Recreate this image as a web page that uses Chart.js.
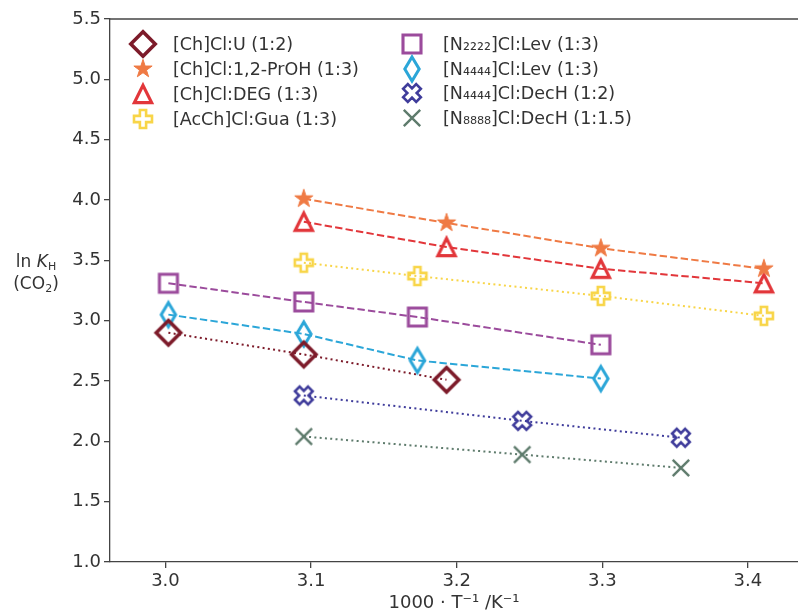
<!DOCTYPE html>
<html>
<head>
<meta charset="utf-8">
<script src="https://cdn.jsdelivr.net/npm/chart.js@4.4.1/dist/chart.umd.min.js"></script>
<style>
  html, body { margin:0; padding:0; background:#fff; }
  #wrap { position:relative; width:798px; height:613px; overflow:hidden; font-family:"DejaVu Sans", sans-serif; color:#333; }
  #c { position:absolute; left:0; top:0; }
  .lg { position:absolute; font-size:17.5px; line-height:20px; white-space:nowrap; color:#333; }
  .mk { position:absolute; width:40px; height:40px; }
  .yt { position:absolute; font-size:17px; line-height:20px; white-space:nowrap; color:#333; text-align:center; width:80px; }
  .yt sub { font-size:11px; vertical-align:-3px; line-height:0; }
</style>
</head>
<body>
<div id="wrap">
  <canvas id="c" width="798" height="613"></canvas>
  <div class="yt" style="left:-4px;top:251px;">ln <i>K</i><sub>H</sub></div>
  <div class="yt" style="left:-4px;top:273px;">(CO<sub>2</sub>)</div>
</div>
<script>
// ---- data ----
const seriesNames = [
  "[Ch]Cl:U (1:2)",
  "[Ch]Cl:1,2-PrOH (1:3)",
  "[Ch]Cl:DEG (1:3)",
  "[AcCh]Cl:Gua (1:3)",
  "[N\u2082\u2082\u2082\u2082]Cl:Lev (1:3)",
  "[N\u2084\u2084\u2084\u2084]Cl:Lev (1:3)",
  "[N\u2084\u2084\u2084\u2084]Cl:DecH (1:2)",
  "[N\u2088\u2088\u2088\u2088]Cl:DecH (1:1.5)"
];
const xU     = [3.002, 3.095, 3.193];
const yU     = [2.90, 2.72, 2.51];
const xPrOH  = [3.095, 3.193, 3.299, 3.411];
const yPrOH  = [4.01, 3.81, 3.60, 3.43];
const xDEG   = [3.095, 3.193, 3.299, 3.411];
const yDEG   = [3.82, 3.61, 3.43, 3.31];
const xGua   = [3.095, 3.173, 3.299, 3.411];
const yGua   = [3.48, 3.37, 3.205, 3.04];
const xN2Lev = [3.002, 3.095, 3.173, 3.299];
const yN2Lev = [3.31, 3.155, 3.03, 2.80];
const xN4Lev = [3.002, 3.095, 3.173, 3.299];
const yN4Lev = [3.05, 2.89, 2.67, 2.52];
const xN4Dec = [3.095, 3.245, 3.354];
const yN4Dec = [2.38, 2.17, 2.03];
const xN8Dec = [3.095, 3.245, 3.354];
const yN8Dec = [2.04, 1.89, 1.78];
const xTicks = [3.0, 3.1, 3.2, 3.3, 3.4];
const yTicks = [1.0, 1.5, 2.0, 2.5, 3.0, 3.5, 4.0, 4.5, 5.0, 5.5];

// ---- styles ----
const styles = [
  {m:'D',    c:'#7d1b2a', dash:[2,3.3]},
  {m:'star', c:'#ef7a44', dash:[7.4,3.2]},
  {m:'^',    c:'#e2363a', dash:[7.4,3.2]},
  {m:'P',    c:'#f8d548', dash:[2,3.3]},
  {m:'s',    c:'#9b4b9c', dash:[7.4,3.2]},
  {m:'d',    c:'#2ba6d8', dash:[7.4,3.2]},
  {m:'X',    c:'#3f3c9b', dash:[2,3.3]},
  {m:'x',    c:'#5e7b6c', dash:[2,3.3]}
];

function drawMarker(ctx, m, color, cx, cy) {
  ctx.save();
  ctx.strokeStyle = color; ctx.fillStyle = color;
  ctx.lineJoin = 'miter'; ctx.lineWidth = 3.2;
  ctx.beginPath();
  if (m === 'D') {
    const r = 12.2;
    ctx.moveTo(cx, cy - r); ctx.lineTo(cx + r, cy); ctx.lineTo(cx, cy + r); ctx.lineTo(cx - r, cy); ctx.closePath();
    ctx.lineWidth = 3.6; ctx.stroke();
  } else if (m === 'star') {
    const R = 9.6, ri = R * 0.382;
    for (let i = 0; i < 10; i++) {
      const rr = i % 2 ? ri : R;
      const a = -Math.PI / 2 + i * Math.PI / 5;
      const px = cx + rr * Math.cos(a), py = cy + rr * Math.sin(a);
      i ? ctx.lineTo(px, py) : ctx.moveTo(px, py);
    }
    ctx.closePath(); ctx.lineWidth = 1; ctx.fill(); ctx.stroke();
  } else if (m === '^') {
    const h = 8.6;
    ctx.moveTo(cx, cy - h); ctx.lineTo(cx + h, cy + h); ctx.lineTo(cx - h, cy + h); ctx.closePath();
    ctx.stroke();
  } else if (m === 'P' || m === 'X') {
    const a = m === 'P' ? 9 : 9.2, b = m === 'P' ? 3.1 : 3.3;
    const pts = [[-b,-a],[b,-a],[b,-b],[a,-b],[a,b],[b,b],[b,a],[-b,a],[-b,b],[-a,b],[-a,-b],[-b,-b]];
    const rot = m === 'X' ? Math.PI / 4 : 0;
    const cr = Math.cos(rot), sr = Math.sin(rot);
    pts.forEach((p, i) => {
      const px = cx + p[0] * cr - p[1] * sr, py = cy + p[0] * sr + p[1] * cr;
      i ? ctx.lineTo(px, py) : ctx.moveTo(px, py);
    });
    ctx.closePath(); ctx.lineWidth = 2.6; ctx.stroke();
  } else if (m === 's') {
    const h = 9;
    ctx.rect(cx - h, cy - h, 2 * h, 2 * h); ctx.lineWidth = 3.1; ctx.stroke();
  } else if (m === 'd') {
    const hy = 12, hx = 7.2;
    ctx.moveTo(cx, cy - hy); ctx.lineTo(cx + hx, cy); ctx.lineTo(cx, cy + hy); ctx.lineTo(cx - hx, cy); ctx.closePath();
    ctx.lineWidth = 3; ctx.stroke();
  } else if (m === 'x') {
    const h = 8.2;
    ctx.moveTo(cx - h, cy - h); ctx.lineTo(cx + h, cy + h);
    ctx.moveTo(cx + h, cy - h); ctx.lineTo(cx - h, cy + h);
    ctx.lineWidth = 2.4; ctx.stroke();
  }
  ctx.restore();
}
function markerCanvas(m, color) {
  const cv = document.createElement('canvas');
  cv.width = 40; cv.height = 40;
  drawMarker(cv.getContext('2d'), m, color, 20, 20);
  return cv;
}

const xs = [xU, xPrOH, xDEG, xGua, xN2Lev, xN4Lev, xN4Dec, xN8Dec];
const ys = [yU, yPrOH, yDEG, yGua, yN2Lev, yN4Lev, yN4Dec, yN8Dec];

const datasets = seriesNames.map((name, i) => ({
  label: name,
  data: xs[i].map((x, j) => ({x: x, y: ys[i][j]})),
  showLine: true,
  borderColor: styles[i].c,
  borderWidth: 2,
  borderDash: styles[i].dash,
  pointStyle: markerCanvas(styles[i].m, styles[i].c),
  pointRadius: 10,
  pointHoverRadius: 10,
  fill: false,
  tension: 0
}));

// top spine only (the right spine lies outside the picture in the reference)
const frame = {
  id: 'frame',
  afterDatasetsDraw(chart) {
    const {ctx, chartArea: a} = chart;
    ctx.save();
    ctx.strokeStyle = '#444'; ctx.lineWidth = 1.3;
    ctx.beginPath(); ctx.moveTo(a.left, a.top); ctx.lineTo(a.right, a.top); ctx.stroke();
    ctx.restore();
  }
};

const tickFont = {family: 'DejaVu Sans', size: 18};
new Chart(document.getElementById('c'), {
  type: 'scatter',
  data: {datasets},
  options: {
    responsive: false,
    animation: false,
    devicePixelRatio: 1,
    layout: {autoPadding: false, padding: {top: 19, right: 0, left: 0, bottom: 0}},
    plugins: {legend: {display: false}, tooltip: {enabled: false}},
    scales: {
      x: {
        type: 'linear', min: 2.9619, max: 3.4344,
        afterBuildTicks: s => { s.ticks = xTicks.map(v => ({value: v})); },
        afterFit: s => { s.height = 51; s.paddingLeft = 0; s.paddingRight = 0; },
        ticks: {font: tickFont, color: '#333', padding: 3, maxRotation: 0, callback: v => v.toFixed(1)},
        grid: {display: true, drawOnChartArea: false, drawTicks: true, tickLength: 6, color: '#444', lineWidth: 1.3},
        border: {display: true, color: '#444', width: 1.3},
        title: {display: true, text: '1000 \u00b7 T\u207b\u00b9 /K\u207b\u00b9', font: {family: 'DejaVu Sans', size: 18, lineHeight: 1.0}, color: '#333', padding: {top: 0, bottom: 1}}
      },
      y: {
        type: 'linear', min: 1.0, max: 5.5,
        afterBuildTicks: s => { s.ticks = yTicks.map(v => ({value: v})); },
        afterFit: s => { s.width = 110; s.paddingTop = 0; s.paddingBottom = 0; },
        ticks: {font: tickFont, color: '#333', padding: 3, callback: v => v.toFixed(1)},
        grid: {display: true, drawOnChartArea: false, drawTicks: true, tickLength: 6, color: '#444', lineWidth: 1.3},
        border: {display: true, color: '#444', width: 1.3}
      }
    }
  },
  plugins: [frame]
});

// ---- legend (two columns, as in the reference) ----
const wrap = document.getElementById('wrap');
const legendPos = [
  [143, 173, 44], [143, 173, 69], [143, 173, 94], [143, 173, 119],
  [412, 443, 44], [412, 443, 69], [412, 443, 93], [412, 443, 118]
];
seriesNames.forEach((name, i) => {
  const [mx, tx, y] = legendPos[i];
  const cv = markerCanvas(styles[i].m, styles[i].c);
  cv.className = 'mk';
  cv.style.left = (mx - 20) + 'px'; cv.style.top = (y - 20) + 'px';
  wrap.appendChild(cv);
  const t = document.createElement('div');
  t.className = 'lg';
  t.textContent = name;
  t.style.left = tx + 'px'; t.style.top = (y - 10) + 'px';
  wrap.appendChild(t);
});
</script>
</body>
</html>
